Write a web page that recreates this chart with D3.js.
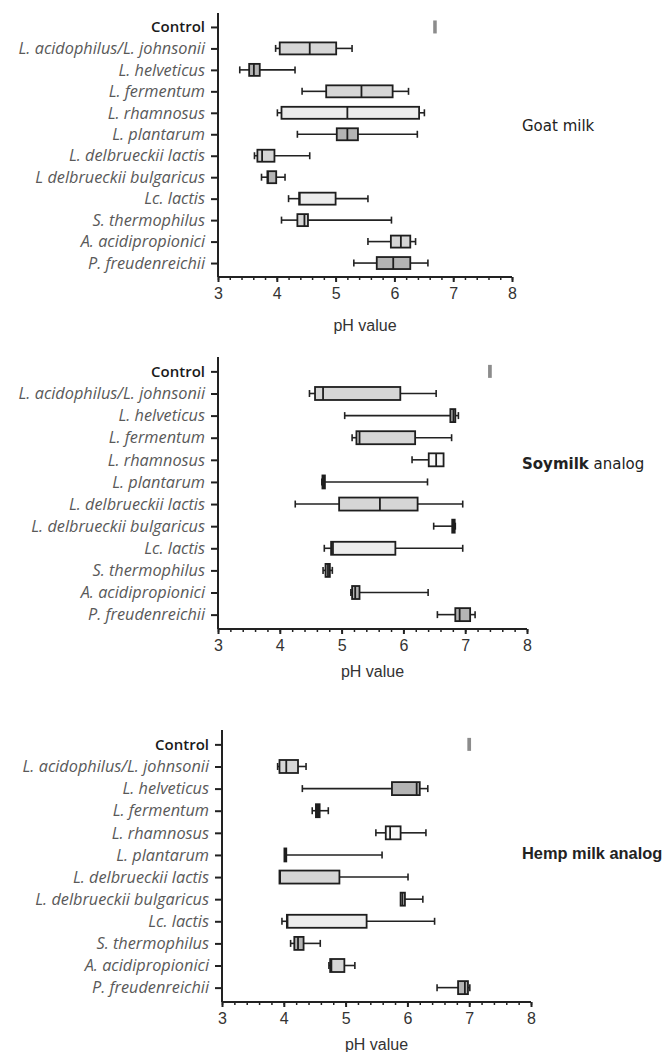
<!DOCTYPE html>
<html>
<head>
<meta charset="utf-8">
<script src="https://cdn.jsdelivr.net/npm/d3@7.9.0/dist/d3.min.js"></script>
<style>
  html, body { margin: 0; padding: 0; background: #fff; }
  svg { display: block; }
  .cat { font-family: "Open Sans", sans-serif; font-style: italic; font-size: 16.3px; fill: #595959; }
  .cat.ctrl { font-style: normal; font-weight: 600; font-size: 15px; fill: #1a1a1a; }
  .tick-lbl { font-family: "Liberation Sans", Arial, sans-serif; font-size: 16px; fill: #333; }
  .xlabel { font-family: "Liberation Sans", Arial, sans-serif; font-size: 16px; fill: #333; }
  .title { font-family: "DejaVu Sans", sans-serif; font-size: 15px; fill: #222; }
  .title.hemp { font-family: "Liberation Sans", Arial, sans-serif; font-size: 16.4px; }
</style>
</head>
<body>
<svg id="chart" width="666" height="1052"></svg>
<script>
// strains, top to bottom
const categories = [
  'Control', 'L. acidophilus/L. johnsonii', 'L. helveticus', 'L. fermentum',
  'L. rhamnosus', 'L. plantarum', 'L. delbrueckii lactis', 'L. delbrueckii bulgaricus',
  'Lc. lactis', 'S. thermophilus', 'A. acidipropionici', 'P. freudenreichii'
];
// goat panel spells this one without the dot
const goatLabels = categories.map(c => c === 'L. delbrueckii bulgaricus' ? 'L delbrueckii bulgaricus' : c);

const ticks = [3, 4, 5, 6, 7, 8];

// pH values: min, q1, median, q3, max
const goatMin = [6.66, 3.98, 3.37, 4.43, 4.01, 4.35, 3.62, 3.74, 4.20, 4.08, 5.55, 5.31];
const goatQ1  = [6.66, 4.05, 3.53, 4.84, 4.08, 5.02, 3.67, 3.84, 4.38, 4.35, 5.94, 5.70];
const goatMed = [6.69, 4.56, 3.61, 5.44, 5.20, 5.20, 3.75, 3.85, 4.39, 4.47, 6.11, 5.98];
const goatQ3  = [6.72, 5.01, 3.71, 5.97, 6.42, 5.38, 3.96, 3.99, 5.00, 4.53, 6.27, 6.27];
const goatMax = [6.72, 5.28, 4.31, 6.24, 6.51, 6.39, 4.56, 4.14, 5.55, 5.95, 6.36, 6.57];

const soyMin = [7.37, 4.48, 5.05, 5.17, 6.14, 4.68, 4.25, 6.49, 4.72, 4.70, 5.15, 6.55];
const soyQ1  = [7.37, 4.57, 6.76, 5.24, 6.41, 4.69, 4.96, 6.79, 4.83, 4.74, 5.17, 6.84];
const soyMed = [7.40, 4.70, 6.81, 5.29, 6.53, 4.71, 5.62, 6.81, 4.86, 4.78, 5.22, 6.91];
const soyQ3  = [7.43, 5.95, 6.84, 6.19, 6.65, 4.73, 6.23, 6.83, 5.87, 4.81, 5.29, 7.08];
const soyMax = [7.43, 6.53, 6.89, 6.78, 6.65, 6.39, 6.96, 6.84, 6.96, 4.85, 6.40, 7.16];

const hempMin = [6.97, 3.90, 4.30, 4.46, 5.49, 4.01, 3.93, 5.89, 3.97, 4.11, 4.73, 6.48];
const hempQ1  = [6.97, 3.93, 5.75, 4.52, 5.65, 4.01, 3.93, 5.89, 4.05, 4.17, 4.75, 6.82];
const hempMed = [7.00, 4.04, 6.15, 4.56, 5.72, 4.03, 3.94, 5.92, 4.06, 4.23, 4.77, 6.93];
const hempQ3  = [7.03, 4.23, 6.20, 4.58, 5.89, 4.04, 4.90, 5.96, 5.34, 4.32, 4.98, 6.98];
const hempMax = [7.03, 4.36, 6.33, 4.72, 6.30, 5.59, 6.01, 6.25, 6.44, 4.59, 5.15, 7.01];

// box shades (styling)
const shade = { c: '#8c8c8c', l: '#d6d6d6', m: '#b4b4b4', p: '#ececec', w: '#f7f7f7', k: '#222' };
const goatFill = ['c', 'l', 'm', 'l', 'p', 'm', 'l', 'm', 'p', 'l', 'l', 'm'];
const soyFill  = ['c', 'l', 'm', 'l', 'w', 'k', 'l', 'k', 'p', 'm', 'm', 'm'];
const hempFill = ['c', 'l', 'm', 'k', 'w', 'k', 'l', 'l', 'p', 'm', 'l', 'm'];

const svg = d3.select('#chart');

function drawPanel(cfg) {
  const g = svg.append('g');
  const x = d3.scaleLinear().domain([3, 8]).range([cfg.x0, cfg.x1]);
  const y = d3.scalePoint().domain(categories).range([cfg.y0, cfg.y1]).padding(0.65);

  const rows = categories.map((c, i) => ({
    cat: c, min: cfg.min[i], q1: cfg.q1[i], med: cfg.med[i], q3: cfg.q3[i], max: cfg.max[i],
    fill: shade[cfg.fill[i]], ctrl: i === 0
  }));

  const bh = cfg.boxH;
  const row = g.selectAll('g.row').data(rows).join('g')
    .attr('transform', d => `translate(0,${y(d.cat)})`);

  const plain = row.filter(d => !d.ctrl);
  // whiskers
  plain.append('line')
    .attr('x1', d => x(d.min)).attr('x2', d => x(d.q1))
    .attr('stroke', '#222').attr('stroke-width', 1.6);
  plain.append('line')
    .attr('x1', d => x(d.q3)).attr('x2', d => x(d.max))
    .attr('stroke', '#222').attr('stroke-width', 1.6);
  plain.filter(d => d.min < d.q1).append('line')
    .attr('x1', d => x(d.min)).attr('x2', d => x(d.min))
    .attr('y1', -3.5).attr('y2', 3.5)
    .attr('stroke', '#222').attr('stroke-width', 1.6);
  plain.filter(d => d.max > d.q3).append('line')
    .attr('x1', d => x(d.max)).attr('x2', d => x(d.max))
    .attr('y1', -3.5).attr('y2', 3.5)
    .attr('stroke', '#222').attr('stroke-width', 1.6);
  // boxes
  plain.append('rect')
    .attr('x', d => x(d.q1)).attr('width', d => Math.max(0.5, x(d.q3) - x(d.q1)))
    .attr('y', -bh / 2).attr('height', bh)
    .attr('fill', d => d.fill).attr('stroke', '#1e1e1e').attr('stroke-width', 1.8);
  plain.append('line')
    .attr('x1', d => x(d.med)).attr('x2', d => x(d.med))
    .attr('y1', -bh / 2).attr('y2', bh / 2)
    .attr('stroke', '#1e1e1e').attr('stroke-width', 1.8);

  // control bar
  row.filter(d => d.ctrl).append('rect')
    .attr('x', d => x(d.q1)).attr('width', d => x(d.q3) - x(d.q1))
    .attr('y', -6.5).attr('height', 13)
    .attr('fill', d => d.fill);

  // y axis
  const ya = g.append('g').attr('transform', `translate(${cfg.x0},0)`)
    .call(d3.axisLeft(y).tickSize(7).tickPadding(6).tickFormat((d, i) => cfg.labels[i]));
  ya.select('.domain').attr('d', `M0,${cfg.y0}V${cfg.y1}`).attr('stroke', '#222').attr('stroke-width', 2);
  ya.selectAll('.tick line').attr('stroke', '#222').attr('stroke-width', 2);
  ya.selectAll('.tick text').attr('class', (d, i) => i === 0 ? 'cat ctrl' : 'cat')
    .attr('font-size', null).attr('font-family', null).attr('fill', null);

  // x axis with minor ticks
  const xa = g.append('g').attr('transform', `translate(0,${cfg.y1})`);
  xa.call(d3.axisBottom(x).tickValues(d3.range(3, 8.001, 0.2)).tickSize(3).tickFormat(''));
  xa.selectAll('.tick line').attr('stroke', '#222').attr('stroke-width', 1.5);
  xa.select('.domain').remove();
  const xm = g.append('g').attr('transform', `translate(0,${cfg.y1})`)
    .call(d3.axisBottom(x).tickValues(ticks).tickSize(5).tickPadding(6).tickFormat(d3.format('d')));
  xm.select('.domain').attr('d', `M${cfg.x0},0H${cfg.x1}`).attr('stroke', '#222').attr('stroke-width', 2);
  xm.selectAll('.tick line').attr('stroke', '#222').attr('stroke-width', 2);
  xm.selectAll('.tick text').attr('class', 'tick-lbl')
    .attr('font-size', null).attr('font-family', null).attr('fill', null);

  g.append('text').attr('class', 'xlabel')
    .attr('x', (cfg.x0 + cfg.x1) / 2).attr('y', cfg.xLabelY)
    .attr('text-anchor', 'middle').text('pH value');

  const t = g.append('text').attr('class', 'title' + (cfg.titleClass ? ' ' + cfg.titleClass : ''))
    .attr('x', 522).attr('y', cfg.titleY);
  cfg.title.forEach(([txt, bold]) => {
    t.append('tspan').attr('font-weight', bold ? 'bold' : 'normal').text(txt);
  });
}

drawPanel({
  labels: goatLabels, min: goatMin, q1: goatQ1, med: goatMed, q3: goatQ3, max: goatMax, fill: goatFill,
  x0: 218, x1: 512, y0: 13, y1: 277, boxH: 12, xLabelY: 331, titleY: 131,
  title: [['Goat milk', false]]
});
drawPanel({
  labels: categories, min: soyMin, q1: soyQ1, med: soyMed, q3: soyQ3, max: soyMax, fill: soyFill,
  x0: 218, x1: 527, y0: 357, y1: 629, boxH: 13, xLabelY: 677, titleY: 469,
  title: [['Soymilk', true], [' analog', false]]
});
drawPanel({
  labels: categories, min: hempMin, q1: hempQ1, med: hempMed, q3: hempQ3, max: hempMax, fill: hempFill,
  x0: 222, x1: 531, y0: 730, y1: 1002, boxH: 13, xLabelY: 1050, titleY: 859,
  title: [['Hemp milk analog', true]], titleClass: 'hemp'
});
</script>
</body>
</html>
